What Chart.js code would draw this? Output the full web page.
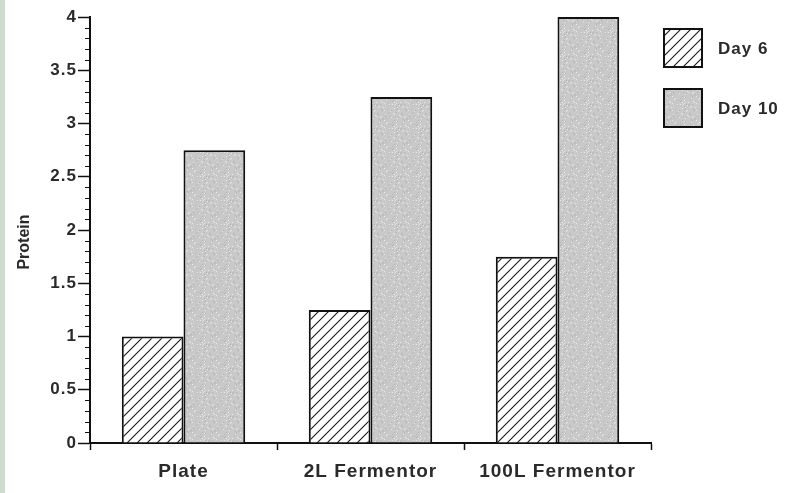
<!DOCTYPE html>
<html>
<head>
<meta charset="utf-8">
<script src="https://cdn.jsdelivr.net/npm/chart.js@4"></script>
<style>
  html, body { margin: 0; padding: 0; background: #fff; }
  #wrap { width: 805px; height: 493px; }
</style>
</head>
<body>
<div id="wrap"><canvas id="graph1" width="805" height="493"></canvas></div>
<script>
// data
var categories = ['Plate', '2L Fermentor', '100L Fermentor'];
var day6 = [1.0, 1.25, 1.75];
var day10 = [2.75, 3.25, 4.0];
var seriesNames = ['Day 6', 'Day 10'];
var yTitle = 'Protein';

var FONT = '"Liberation Sans", Arial, sans-serif';
var INK = '#2a2a2a';

// diagonal hatching, like the scanned figure
function hatchPattern() {
    var c = document.createElement('canvas');
    c.width = 10; c.height = 10;
    var g = c.getContext('2d');
    g.fillStyle = '#fff';
    g.fillRect(0, 0, 10, 10);
    g.strokeStyle = '#1a1a1a';
    g.lineWidth = 1.1;
    g.beginPath();
    g.moveTo(-1, 11); g.lineTo(11, -1);
    g.moveTo(-6, 6); g.lineTo(6, -6);
    g.moveTo(4, 16); g.lineTo(16, 4);
    g.stroke();
    return g.createPattern(c, 'repeat');
}

// grey stipple (fixed speckle, no randomness)
function stipplePattern() {
    var c = document.createElement('canvas');
    c.width = 24; c.height = 24;
    var g = c.getContext('2d');
    g.fillStyle = '#c9c9c9';
    g.fillRect(0, 0, 24, 24);
    for (var i = 0; i < 24; i++) {
        for (var j = 0; j < 24; j++) {
            var h = (i * 37 + j * 91 + i * j * 13) % 53;
            if (h < 3) { g.fillStyle = '#e8e8e8'; g.fillRect(i, j, 1, 1); }
            else if (h > 49) { g.fillStyle = '#b3b3b3'; g.fillRect(i, j, 1, 1); }
        }
    }
    return g.createPattern(c, 'repeat');
}

var hatch = hatchPattern();
var stipple = stipplePattern();

// the scan's lettering is wide, so space the letters out a little
function spaced(chart) { chart.ctx.letterSpacing = '1px'; }

var extras = {
    id: 'extras',
    beforeLayout: spaced,
    beforeDraw: function (chart) {
        var ctx = chart.ctx;
        spaced(chart);
        ctx.save();
        ctx.fillStyle = '#fff';
        ctx.fillRect(0, 0, chart.width, chart.height);
        ctx.fillStyle = '#cddccd';
        ctx.fillRect(0, 0, 5, chart.height);
        ctx.restore();
    },
    afterDraw: function (chart) {
        var ctx = chart.ctx;
        var y = chart.scales.y;
        ctx.save();
        // minor ticks every 0.1
        ctx.strokeStyle = '#111';
        ctx.lineWidth = 1.2;
        ctx.beginPath();
        for (var k = 1; k < 40; k++) {
            if (k % 5 === 0) continue;
            var py = Math.round(y.getPixelForValue(k / 10)) + 0.5;
            ctx.moveTo(y.right - 5, py);
            ctx.lineTo(y.right, py);
        }
        ctx.stroke();

        // axis title, a little below the middle as in the figure
        ctx.save();
        ctx.letterSpacing = '0px';
        ctx.translate(25, 242);
        ctx.rotate(-Math.PI / 2);
        ctx.font = 'bold 16px ' + FONT;
        ctx.fillStyle = INK;
        ctx.textAlign = 'center';
        ctx.textBaseline = 'middle';
        ctx.fillText(yTitle, 0, 0);
        ctx.restore();

        // legend on the right
        var items = chart.data.datasets;
        var top = [28, 88];
        ctx.letterSpacing = '1px';
        ctx.font = 'bold 17px ' + FONT;
        ctx.textBaseline = 'middle';
        for (var i = 0; i < items.length; i++) {
            ctx.fillStyle = items[i].backgroundColor;
            ctx.fillRect(663, top[i], 40, 40);
            ctx.strokeStyle = '#111';
            ctx.lineWidth = 2;
            ctx.strokeRect(664, top[i] + 1, 38, 38);
            ctx.fillStyle = INK;
            ctx.fillText(items[i].label, 718, top[i] + 21);
        }
        ctx.restore();
    }
};

var ctx = document.getElementById('graph1').getContext('2d');
var chart = new Chart(ctx, {
    type: 'bar',
    data: {
        labels: categories,
        datasets: [{
            label: seriesNames[0],
            data: day6,
            backgroundColor: hatch,
            borderColor: '#111',
            borderWidth: 2
        }, {
            label: seriesNames[1],
            data: day10,
            backgroundColor: stipple,
            borderColor: '#111',
            borderWidth: 2
        }]
    },
    options: {
        responsive: false,
        maintainAspectRatio: false,
        animation: false,
        events: [],
        layout: { padding: { left: 0, right: 154, top: 17, bottom: 0 } },
        plugins: {
            legend: { display: false },
            tooltip: { enabled: false }
        },
        datasets: {
            bar: { categoryPercentage: 0.66, barPercentage: 1.0 }
        },
        scales: {
            x: {
                grid: {
                    drawOnChartArea: false,
                    tickLength: 7,
                    tickColor: '#111',
                    tickWidth: 1.5
                },
                border: { color: '#111', width: 2 },
                ticks: {
                    color: INK,
                    font: { family: FONT, size: 19, weight: 'bold' },
                    padding: 10,
                    maxRotation: 0,
                    autoSkip: false
                },
                afterFit: function (s) { s.height = 50; }
            },
            y: {
                min: 0,
                max: 4,
                ticks: {
                    stepSize: 0.5,
                    color: INK,
                    font: { family: FONT, size: 17, weight: 'bold' },
                    padding: 1,
                    callback: function (v) { return String(+v.toFixed(1)); }
                },
                grid: {
                    drawOnChartArea: false,
                    tickLength: 12,
                    tickColor: '#111',
                    tickWidth: 1.5
                },
                border: { color: '#111', width: 2 },
                afterFit: function (s) { s.width = 90; }
            }
        }
    },
    plugins: [extras]
});
</script>
</body>
</html>
